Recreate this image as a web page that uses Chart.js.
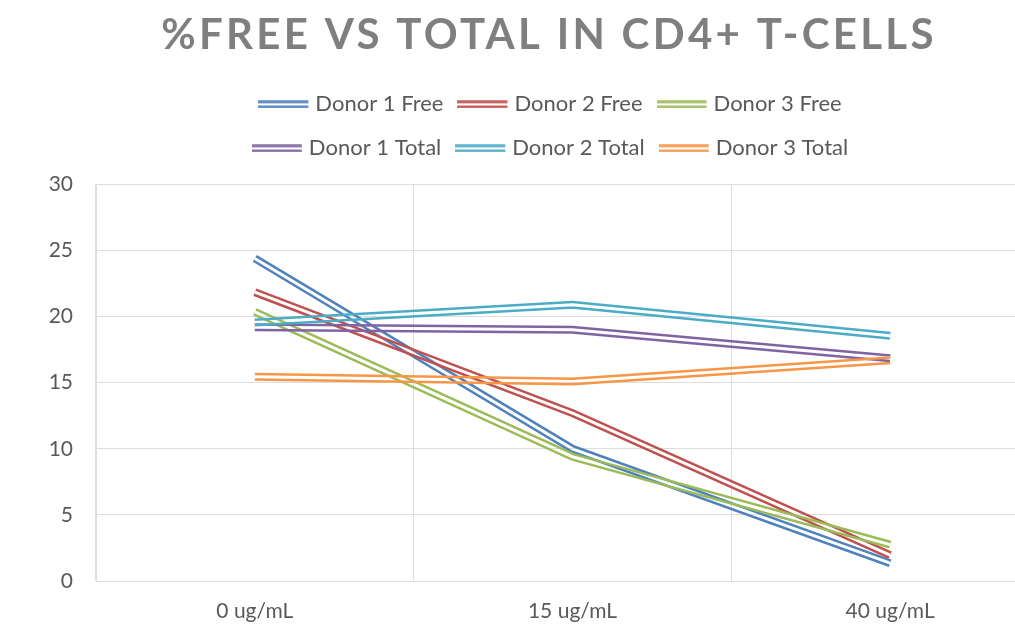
<!DOCTYPE html>
<html>
<head>
<meta charset="utf-8">
<script src="https://cdn.jsdelivr.net/npm/chart.js@4"></script>
<style>
  body { margin: 0; background: #fff; overflow: hidden; }
  #wrap { width: 1015px; height: 636px; overflow: hidden; }
</style>
</head>
<body>
<div id="wrap"><canvas id="grafico" width="1100" height="636"></canvas></div>
<script>
const doses = ['0 ug/mL', '15 ug/mL', '40 ug/mL']
const donor1Free = [24.4, 10.0, 1.35]
const donor2Free = [21.85, 12.7, 1.95]
const donor3Free = [20.35, 9.4, 2.75]
const donor1Total = [19.2, 19.0, 16.85]
const donor2Total = [19.55, 20.9, 18.55]
const donor3Total = [15.45, 15.1, 16.7]
const yTicks = [0, 5, 10, 15, 20, 25, 30]

const texto = '#595959'
const grade = '#dedede'

// amostra da legenda: duas linhas paralelas
function amostra(cor) {
  const c = document.createElement('canvas')
  c.width = 54
  c.height = 8
  const g = c.getContext('2d')
  g.fillStyle = cor
  g.fillRect(0, 0.3, 50, 2.5)
  g.fillRect(0, 5.2, 50, 2.5)
  return c
}

// linha dupla (estilo "double" do Excel)
const linhasDuplas = {
  id: 'linhasDuplas',
  beforeDatasetsDraw(chart) {
    const ctx = chart.ctx
    const off = document.createElement('canvas')
    off.width = chart.canvas.width
    off.height = chart.canvas.height
    const o = off.getContext('2d')
    chart.data.datasets.forEach((ds, i) => {
      const pts = chart.getDatasetMeta(i).data
      o.globalCompositeOperation = 'source-over'
      o.clearRect(0, 0, off.width, off.height)
      o.beginPath()
      pts.forEach((p, j) => j ? o.lineTo(p.x, p.y) : o.moveTo(p.x, p.y))
      o.strokeStyle = ds.borderColor
      o.lineJoin = 'miter'
      o.lineWidth = 8
      o.stroke()
      o.globalCompositeOperation = 'destination-out'
      o.lineWidth = 3
      o.stroke()
      ctx.drawImage(off, 0, 0)
    })
    return false
  }
}

// legenda em linhas de 3 itens e titulo espaçado
const ajustes = {
  id: 'ajustes',
  beforeLayout(chart) {
    const lg = chart.legend
    if (lg && !lg._ajustado) {
      const up = lg.update
      lg.update = function (w, h, m) {
        const r = up.call(this, Math.min(w, 660), h, m)
        this.height += 15
        return r
      }
      lg._ajustado = true
    }
    const tb = chart.titleBlock
    if (tb && !tb._ajustado) {
      const dr = tb.draw
      tb.draw = function () {
        this.ctx.save()
        this.ctx.letterSpacing = '3.3px'
        dr.apply(this, arguments)
        this.ctx.restore()
      }
      tb._ajustado = true
    }
  },
  afterLayout(chart) {
    const lg = chart.legend
    const meio = 554
    lg.left = meio - 330
    lg.right = meio + 330
    lg.width = 660
    const tb = chart.titleBlock
    tb.left = 0
    tb.right = 1098
    tb.width = 1098
  }
}

function serie(label, data, cor) {
  return { label: label, data: data, borderColor: cor, backgroundColor: cor, pointRadius: 0, borderWidth: 8 }
}

const grafico = new Chart(document.getElementById('grafico'), {
  type: 'line',
  data: {
    labels: doses,
    datasets: [
      serie('Donor 1 Free', donor1Free, '#4f81bd'),
      serie('Donor 2 Free', donor2Free, '#c0504d'),
      serie('Donor 3 Free', donor3Free, '#9bbb59'),
      serie('Donor 1 Total', donor1Total, '#8064a2'),
      serie('Donor 2 Total', donor2Total, '#4bacc6'),
      serie('Donor 3 Total', donor3Total, '#f79646')
    ]
  },
  options: {
    responsive: false,
    animation: false,
    layout: { padding: { left: 0, right: 51, top: 0, bottom: 0 } },
    plugins: {
      tooltip: { enabled: false },
      title: {
        display: true,
        text: '%FREE VS TOTAL IN CD4+ T-CELLS',
        color: '#7f7f7f',
        font: { family: 'Lato', size: 42, weight: 'bold' },
        padding: { top: 10, bottom: 11 }
      },
      legend: {
        display: true,
        position: 'top',
        labels: {
          color: texto,
          font: { family: 'Lato', size: 22 },
          usePointStyle: true,
          pointStyleWidth: 38,
          padding: 22,
          generateLabels: chart => chart.data.datasets.map((ds, i) => ({
            text: ds.label,
            fillStyle: ds.borderColor,
            strokeStyle: ds.borderColor,
            lineWidth: 0,
            pointStyle: amostra(ds.borderColor),
            fontColor: texto,
            hidden: false,
            datasetIndex: i
          }))
        }
      }
    },
    scales: {
      x: {
        offset: true,
        grid: { offset: true, color: grade, drawTicks: false },
        border: { color: grade },
        ticks: { color: texto, font: { family: 'Lato', size: 21 }, padding: 18 },
        afterFit: scale => { scale.height = 55 }
      },
      y: {
        min: 0,
        max: 30,
        afterBuildTicks: scale => { scale.ticks = yTicks.map(v => ({ value: v })) },
        grid: { color: grade, drawTicks: false },
        border: { color: grade },
        ticks: { color: texto, font: { family: 'Lato', size: 21 }, padding: 23 },
        afterFit: scale => { scale.width = 96 }
      }
    }
  },
  plugins: [linhasDuplas, ajustes]
})
</script>
</body>
</html>
